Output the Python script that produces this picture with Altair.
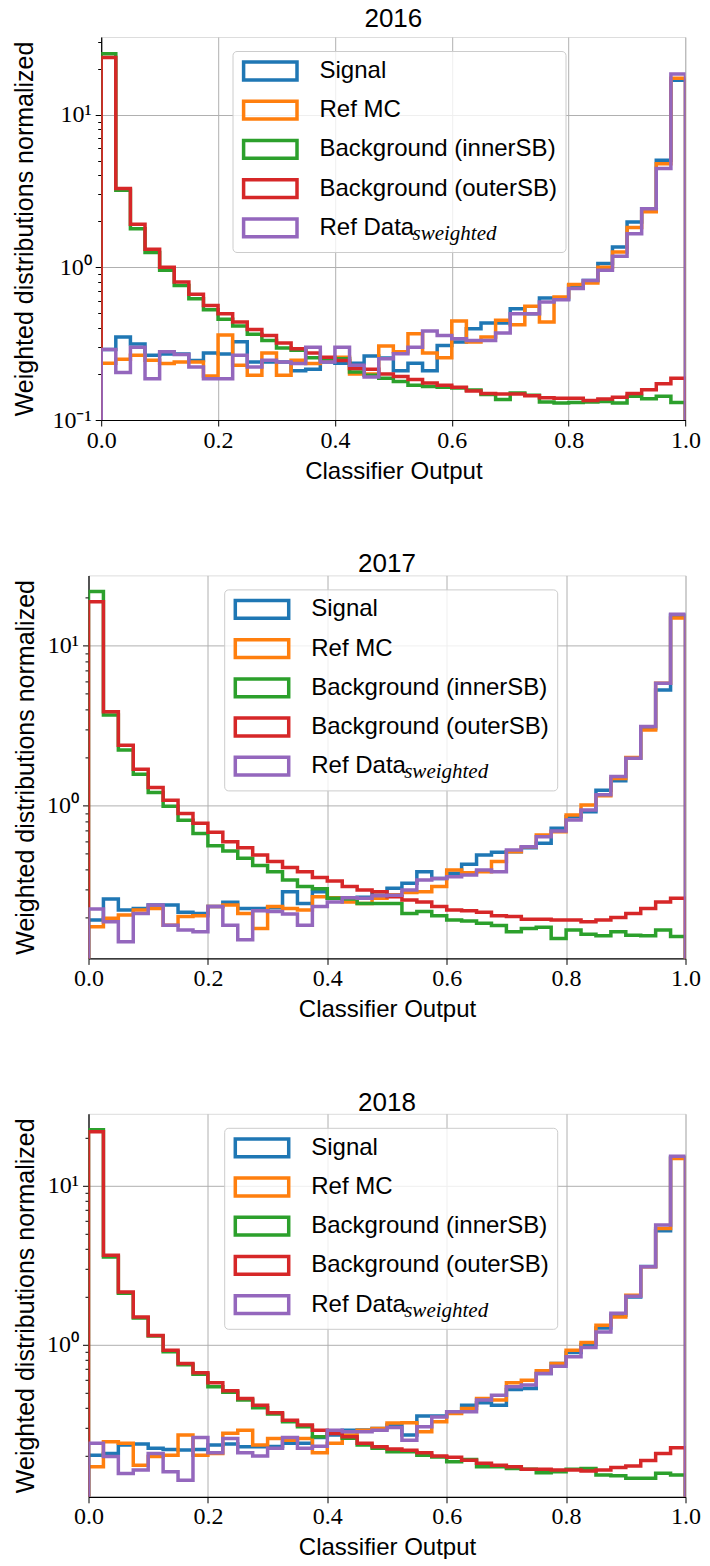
import altair as alt
import pandas as pd

names = ["Signal", "Ref MC", "Background (innerSB)", "Background (outerSB)", "Ref Data"]
colors = ["#1f77b4", "#ff7f0e", "#2ca02c", "#d62728", "#9467bd"]
years = ["2016", "2017", "2018"]
subscript = ["sweighted"]
edges = [round(i * 0.025, 3) for i in range(41)]

signal16 = [0.29, 0.35, 0.315, 0.265, 0.27, 0.27, 0.245, 0.275, 0.27, 0.325, 0.24, 0.24, 0.24, 0.21, 0.215, 0.24, 0.235, 0.235, 0.262, 0.255,
            0.21, 0.235, 0.21, 0.308, 0.324, 0.396, 0.432, 0.432, 0.536, 0.497, 0.63, 0.62, 0.76, 0.82, 1.06, 1.36, 1.98, 2.42, 5.02, 16.8]
refmc16 = [0.235, 0.25, 0.265, 0.246, 0.234, 0.24, 0.24, 0.194, 0.36, 0.228, 0.196, 0.275, 0.196, 0.246, 0.234, 0.25, 0.258, 0.2, 0.2, 0.305,
           0.28, 0.367, 0.275, 0.256, 0.445, 0.324, 0.35, 0.45, 0.42, 0.555, 0.438, 0.639, 0.77, 0.79, 1.0, 1.26, 1.82, 2.31, 4.77, 17.3]
inner16 = [25.0, 3.2, 1.79, 1.25, 0.956, 0.76, 0.623, 0.528, 0.456, 0.413, 0.364, 0.332, 0.296, 0.286, 0.256, 0.252, 0.252, 0.206, 0.196, 0.188,
           0.179, 0.169, 0.166, 0.164, 0.162, 0.157, 0.147, 0.136, 0.15, 0.145, 0.131, 0.129, 0.13, 0.131, 0.132, 0.129, 0.143, 0.138, 0.143, 0.13]
outer16 = [23.6, 3.28, 1.91, 1.31, 1.0, 0.80, 0.665, 0.563, 0.497, 0.438, 0.391, 0.358, 0.319, 0.293, 0.275, 0.258, 0.245, 0.217, 0.215, 0.2,
           0.193, 0.184, 0.175, 0.169, 0.164, 0.155, 0.149, 0.148, 0.148, 0.144, 0.14, 0.139, 0.139, 0.134, 0.137, 0.141, 0.149, 0.158, 0.173, 0.188]
refdata16 = [0.29, 0.205, 0.30, 0.186, 0.28, 0.268, 0.222, 0.186, 0.186, 0.265, 0.222, 0.246, 0.24, 0.234, 0.30, 0.24, 0.30, 0.228, 0.191, 0.252,
             0.272, 0.30, 0.383, 0.358, 0.34, 0.332, 0.332, 0.371, 0.497, 0.497, 0.593, 0.614, 0.725, 0.82, 0.955, 1.18, 1.66, 2.42, 4.43, 18.4]

signal17 = [0.193, 0.261, 0.223, 0.228, 0.239, 0.239, 0.216, 0.212, 0.234, 0.249, 0.228, 0.228, 0.23, 0.29, 0.245, 0.29, 0.264, 0.264, 0.268, 0.29,
            0.305, 0.327, 0.387, 0.351, 0.378, 0.43, 0.492, 0.512, 0.516, 0.546, 0.582, 0.722, 0.854, 0.917, 1.25, 1.43, 1.98, 3.04, 5.28, 15.5]
refmc17 = [0.175, 0.198, 0.207, 0.223, 0.228, 0.179, 0.203, 0.205, 0.234, 0.239, 0.212, 0.171, 0.234, 0.228, 0.223, 0.27, 0.266, 0.25, 0.245, 0.264,
           0.277, 0.287, 0.29, 0.312, 0.396, 0.381, 0.387, 0.447, 0.516, 0.554, 0.656, 0.688, 0.874, 1.01, 1.155, 1.48, 2.0, 2.97, 5.82, 14.9]
inner17 = [21.8, 3.69, 2.23, 1.57, 1.21, 0.99, 0.81, 0.671, 0.562, 0.521, 0.469, 0.422, 0.387, 0.343, 0.312, 0.302, 0.264, 0.261, 0.245, 0.245,
           0.245, 0.212, 0.218, 0.205, 0.193, 0.19, 0.184, 0.178, 0.163, 0.171, 0.174, 0.148, 0.167, 0.157, 0.154, 0.163, 0.155, 0.154, 0.167, 0.152]
outer17 = [18.8, 3.87, 2.39, 1.69, 1.30, 1.08, 0.895, 0.776, 0.681, 0.596, 0.546, 0.492, 0.447, 0.41, 0.387, 0.355, 0.338, 0.312, 0.297, 0.29,
           0.27, 0.257, 0.25, 0.234, 0.223, 0.22, 0.216, 0.205, 0.203, 0.195, 0.195, 0.193, 0.193, 0.188, 0.193, 0.2, 0.212, 0.228, 0.25, 0.264]
refdata17 = [0.226, 0.188, 0.141, 0.212, 0.239, 0.179, 0.167, 0.163, 0.234, 0.179, 0.145, 0.22, 0.218, 0.21, 0.179, 0.234, 0.25, 0.266, 0.264, 0.273,
             0.275, 0.297, 0.343, 0.351, 0.36, 0.369, 0.396, 0.387, 0.529, 0.554, 0.64, 0.694, 0.814, 0.94, 1.17, 1.52, 1.98, 3.12, 5.82, 15.7]

signal18 = [0.201, 0.206, 0.233, 0.236, 0.222, 0.218, 0.217, 0.218, 0.233, 0.236, 0.227, 0.227, 0.228, 0.239, 0.239, 0.26, 0.269, 0.289, 0.29, 0.296,
            0.311, 0.269, 0.355, 0.355, 0.377, 0.415, 0.43, 0.415, 0.521, 0.529, 0.657, 0.76, 0.89, 1.0, 1.27, 1.53, 1.99, 3.1, 5.2, 15.0]
refmc18 = [0.17, 0.244, 0.239, 0.174, 0.197, 0.201, 0.269, 0.201, 0.206, 0.276, 0.289, 0.233, 0.256, 0.25, 0.256, 0.208, 0.239, 0.269, 0.289, 0.296,
           0.32, 0.322, 0.282, 0.326, 0.368, 0.396, 0.457, 0.447, 0.574, 0.596, 0.683, 0.76, 0.92, 1.03, 1.32, 1.49, 2.04, 3.08, 5.36, 14.8]
inner18 = [22.5, 3.55, 2.1, 1.47, 1.13, 0.90, 0.745, 0.65, 0.542, 0.50, 0.447, 0.40, 0.365, 0.326, 0.304, 0.263, 0.28, 0.257, 0.233, 0.222,
           0.211, 0.211, 0.201, 0.196, 0.183, 0.189, 0.17, 0.17, 0.166, 0.164, 0.156, 0.158, 0.164, 0.166, 0.151, 0.149, 0.144, 0.144, 0.155, 0.151]
outer18 = [21.8, 3.65, 2.14, 1.49, 1.14, 0.921, 0.76, 0.663, 0.574, 0.511, 0.457, 0.415, 0.372, 0.334, 0.311, 0.289, 0.275, 0.263, 0.239, 0.227,
           0.22, 0.216, 0.208, 0.199, 0.195, 0.187, 0.179, 0.174, 0.17, 0.164, 0.164, 0.162, 0.162, 0.16, 0.162, 0.168, 0.172, 0.186, 0.206, 0.224]
refdata18 = [0.239, 0.197, 0.154, 0.162, 0.206, 0.158, 0.14, 0.26, 0.208, 0.256, 0.208, 0.199, 0.222, 0.26, 0.222, 0.229, 0.289, 0.282, 0.282, 0.289,
             0.30, 0.25, 0.304, 0.35, 0.377, 0.377, 0.447, 0.48, 0.542, 0.555, 0.657, 0.73, 0.836, 0.957, 1.2, 1.57, 2.01, 3.08, 5.64, 15.3]

series = {
    "2016": [signal16, refmc16, inner16, outer16, refdata16],
    "2017": [signal17, refmc17, inner17, outer17, refdata17],
    "2018": [signal18, refmc18, inner18, outer18, refdata18],
}
ydomains = {"2016": [0.1, 32.2], "2017": [0.111, 27.5], "2018": [0.110, 28.3]}
baseline = 0.001

rows = []
for yr in years:
    for name, vals in zip(names, series[yr]):
        pts = [(0.0, baseline)]
        for i, v in enumerate(vals):
            pts.append((edges[i], v))
        pts.append((edges[-1], vals[-1]))
        pts.append((edges[-1], baseline))
        for k, (xx, yy) in enumerate(pts):
            rows.append({"year": yr, "series": name, "x": xx, "y": yy, "order": k})
df = pd.DataFrame(rows)

SANS = "Liberation Sans"
SERIF = "Liberation Serif"
major_test = "abs(log(datum.value)/LN10 - round(log(datum.value)/LN10)) < 0.000001"


def yticks(dom):
    vals = []
    for dec in [0.1, 1, 10]:
        for m in range(1, 10):
            v = round(m * dec, 6)
            if dom[0] - 1e-9 <= v <= dom[1]:
                vals.append(v)
    return vals


def panel(yr, width, lx, ly, title_x):
    dom = ydomains[yr]
    data = df[df.year == yr]
    xaxis = alt.Axis(values=[0, 0.2, 0.4, 0.6, 0.8, 1.0], format=".1f", title="Classifier Output",
                     labelFont=SERIF, labelFontSize=24, labelColor="black", labelPadding=2,
                     titleFont=SANS, titleFontSize=24, titleFontWeight="normal", titleColor="black", titlePadding=7,
                     tickSize=6, tickColor="black", tickWidth=1, domainColor="black", domainWidth=1.2,
                     grid=True, gridColor="#b0b0b0", gridWidth=1, labelFlush=False)
    yaxis = alt.Axis(values=yticks(dom),
                     labelExpr="datum.value == 10 ? '10\u00b9' : datum.value == 1 ? '10\u2070' : datum.value == 0.1 ? '10\u207b\u00b9' : ''",
                     labelFont=SERIF, labelFontSize=24, labelColor="black", labelPadding=4, labelOverlap=False,
                     title="Weighted distributions normalized", titleFont=SANS, titleFontSize=25,
                     titleFontWeight="normal", titleColor="black", titleX=title_x, titleBaseline="bottom",
                     tickSize={"condition": {"test": major_test, "value": 6}, "value": 3.5},
                     tickColor="black", tickWidth=1, domainColor="black", domainWidth=1.2,
                     grid=True, gridColor="#b0b0b0", gridWidth=1,
                     gridOpacity={"condition": {"test": major_test, "value": 1}, "value": 0})
    legend = alt.Legend(title=None, orient="none", legendX=lx, legendY=ly,
                        symbolType="M-1,-1H5V1H-1Z", symbolSize=317, symbolStrokeWidth=3.5,
                        symbolFillColor="transparent", labelFont=SANS, labelFontSize=24, labelColor="black",
                        labelOffset=55, labelLimit=500, rowPadding=7.2, padding=8,
                        fillColor="rgba(255,255,255,0.8)", strokeColor="#cccccc", cornerRadius=4)
    sublegend = alt.Legend(title=None, orient="none", legendX=lx + 159, legendY=ly + 172.4,
                           symbolSize=0, symbolStrokeWidth=0, symbolOpacity=0, labelOffset=0, padding=0,
                           labelFont=SERIF, labelFontStyle="italic", labelFontSize=21, labelColor="black",
                           labelLimit=300)
    layers = []
    for i, name in enumerate(names):
        layers.append(
            alt.Chart(data).transform_filter(alt.datum.series == name)
            .mark_line(interpolate="step-after", strokeWidth=3.5, clip=True, strokeJoin="miter")
            .encode(
                x=alt.X("x:Q", scale=alt.Scale(domain=[0, 1], nice=False, zero=False), axis=xaxis),
                y=alt.Y("y:Q", scale=alt.Scale(type="log", domain=dom, nice=False), axis=yaxis),
                color=alt.Color("series:N", scale=alt.Scale(domain=names, range=colors),
                                legend=legend if i == 0 else None),
                order="order:Q",
            )
        )
    sub = alt.Chart(pd.DataFrame({"t": subscript})).mark_point(opacity=0, size=1).encode(
        x=alt.value(0), y=alt.value(0),
        shape=alt.Shape("t:N", legend=sublegend),
    )
    layers.append(sub)
    title = alt.TitleParams(text=yr, font=SANS, fontSize=26, fontWeight="normal", color="black", offset=-2.2)
    return alt.layer(*layers).properties(width=width, height=383, title=title)


# an empty, invisible strip that pushes the first panel 12.7 px to the right
spacer = alt.Chart(pd.DataFrame({"v": [0]})).mark_point(opacity=0, size=1).encode(
    x=alt.value(0), y=alt.value(0)
).properties(width=1, height=383, view=alt.ViewBackground(stroke="transparent", strokeWidth=0))

# the first panel's legends are placed relative to this wrapper's origin
first = alt.hconcat(spacer, panel("2016", 584.3, 144, 14, -63.2), spacing=11.7, bounds="flush")

chart = alt.vconcat(
    first,
    panel("2017", 597, 135.7, 14, -50.5),
    panel("2018", 597, 135.7, 14, -50.5),
    spacing=66.4,
).resolve_scale(color="independent", shape="independent").properties(
    padding={"top": -3, "left": 3.5, "right": 0, "bottom": -2}
).configure_view(
    stroke="black", strokeWidth=1.2
).configure(background="white")

chart.save("out.html", embed_options={"renderer": "svg", "actions": False})
